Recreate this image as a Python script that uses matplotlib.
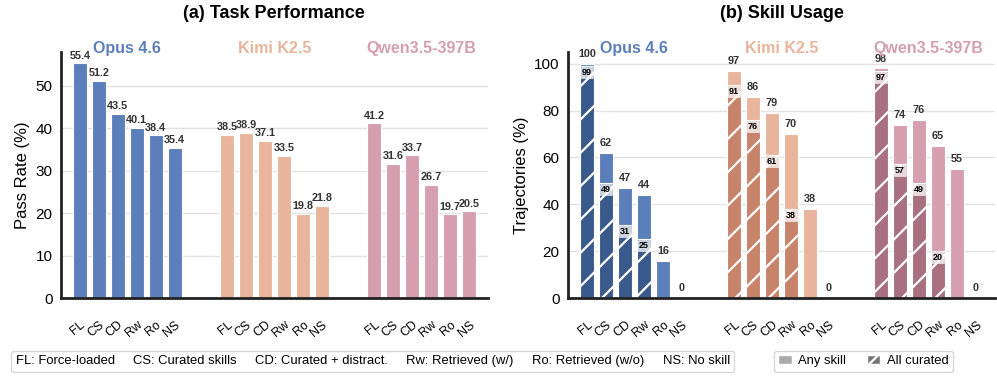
import matplotlib.pyplot as plt
from matplotlib.patches import Patch
import numpy as np

plt.rcParams['font.family'] = ['Liberation Sans', 'DejaVu Sans']
plt.rcParams['hatch.linewidth'] = 1.6
plt.rcParams['hatch.color'] = 'white'

models = ["Opus 4.6", "Kimi K2.5", "Qwen3.5-397B"]
conds = ["FL", "CS", "CD", "Rw", "Ro", "NS"]
light = ["#5b7fba", "#e8b59c", "#d69fb0"]
dark = ["#3b5a8c", "#c8846a", "#a87080"]

# (a) pass rate per model
pass_opus = [55.4, 51.2, 43.5, 40.1, 38.4, 35.4]
pass_kimi = [38.5, 38.9, 37.1, 33.5, 19.8, 21.8]
pass_qwen = [41.2, 31.6, 33.7, 26.7, 19.7, 20.5]

# (b) any skill used / all curated used (None = not applicable)
any_opus = [100, 62, 47, 44, 16, 0]
any_kimi = [97, 86, 79, 70, 38, 0]
any_qwen = [98, 74, 76, 65, 55, 0]
cur_opus = [99, 49, 31, 25, None, None]
cur_kimi = [91, 76, 61, 38, None, None]
cur_qwen = [97, 57, 49, 20, None, None]

legend_text = ["FL: Force-loaded", "CS: Curated skills", "CD: Curated + distract.",
               "Rw: Retrieved (w/)", "Ro: Retrieved (w/o)", "NS: No skill"]

passes = [pass_opus, pass_kimi, pass_qwen]
anys = [any_opus, any_kimi, any_qwen]
curs = [cur_opus, cur_kimi, cur_qwen]

gap = 7.75
w = 0.72

fig = plt.figure(figsize=(9.97, 3.77), dpi=100)
ax1 = fig.add_axes([0.061, 0.2095, 0.4285, 0.6525])
ax2 = fig.add_axes([0.5697, 0.2095, 0.4283, 0.6525])

def style(ax, ymax, ticks):
    ax.set_axisbelow(True)
    ax.grid(axis='y', color='#e3e3e3', lw=1)
    for s in ['top', 'right']:
        ax.spines[s].set_visible(False)
    for s in ['left', 'bottom']:
        ax.spines[s].set_linewidth(2)
        ax.spines[s].set_color('#222222')
    ax.set_ylim(0, ymax)
    ax.set_yticks(ticks)
    ax.set_xlim(-1, 2 * gap + 6)
    ax.tick_params(axis='y', length=0, labelsize=11, pad=6)
    ax.tick_params(axis='x', length=0, pad=15)

xt = []
xl = []
for g in range(3):
    x = np.arange(6) + g * gap
    xt += list(x)
    xl += conds
    # panel a
    ax1.bar(x, passes[g], w, color=light[g], edgecolor='white', lw=0.8)
    for xi, v in zip(x, passes[g]):
        ax1.text(xi, v + 0.6, f"{v}", ha='center', va='bottom', fontsize=7.8,
                 fontweight='bold', color='#333333')
    ax1.text(x.mean(), 1.015, models[g], transform=ax1.get_xaxis_transform(),
             ha='center', va='center', fontsize=11.5, fontweight='bold', color=light[g])
    # panel b
    ax2.bar(x, anys[g], w, color=light[g], edgecolor='white', lw=0.8)
    for xi, v in zip(x, anys[g]):
        ax2.text(xi, v + 2, f"{v}", ha='center', va='bottom', fontsize=7.8,
                 fontweight='bold', color='#333333')
    for xi, v in zip(x, curs[g]):
        if v is None:
            continue
        ax2.bar(xi, v, w, color=dark[g], edgecolor='white', lw=0.8, hatch='/')
        ax2.text(xi, v - 0.8, f"{v}", ha='center', va='top', fontsize=6.5,
                 fontweight='bold', color='black',
                 bbox=dict(boxstyle='square,pad=0.12', fc='white', ec='white',
                           alpha=0.75, lw=0.5))
    ax2.text(x.mean(), 1.015, models[g], transform=ax2.get_xaxis_transform(),
             ha='center', va='center', fontsize=11.5, fontweight='bold', color=light[g])

style(ax1, 58, [0, 10, 20, 30, 40, 50])
style(ax2, 105, [0, 20, 40, 60, 80, 100])
for ax in [ax1, ax2]:
    ax.set_xticks(xt)
    ax.set_xticklabels(xl, rotation=40, ha='right', rotation_mode='anchor', fontsize=9)

ax1.set_ylabel("Pass Rate (%)", fontsize=12)
ax2.set_ylabel("Trajectories (%)", fontsize=12)
fig.text(0.2752, 0.963, "(a) Task Performance", fontsize=13, fontweight='bold',
         ha='center', va='center')
fig.text(0.784, 0.963, "(b) Skill Usage", fontsize=13, fontweight='bold',
         ha='center', va='center')

handles = [Patch(color='none', label=t) for t in legend_text]
fig.legend(handles=handles, loc='center', bbox_to_anchor=(0.374, 0.042),
           ncol=6, fontsize=9.4, handlelength=0, handletextpad=0,
           columnspacing=1.4, frameon=True, edgecolor='#cccccc',
           borderpad=0.35)

h2 = [Patch(facecolor='#aaaaaa', edgecolor='white', label='Any skill'),
      Patch(facecolor='#777777', edgecolor='white', hatch='//', label='All curated')]
fig.legend(handles=h2, loc='center', bbox_to_anchor=(0.866, 0.042), ncol=2,
           fontsize=9.4, handlelength=1.0, handleheight=0.7, handletextpad=0.5,
           columnspacing=1.6, frameon=True, edgecolor='#cccccc', borderpad=0.35)

fig.savefig("out.png", dpi=100)
